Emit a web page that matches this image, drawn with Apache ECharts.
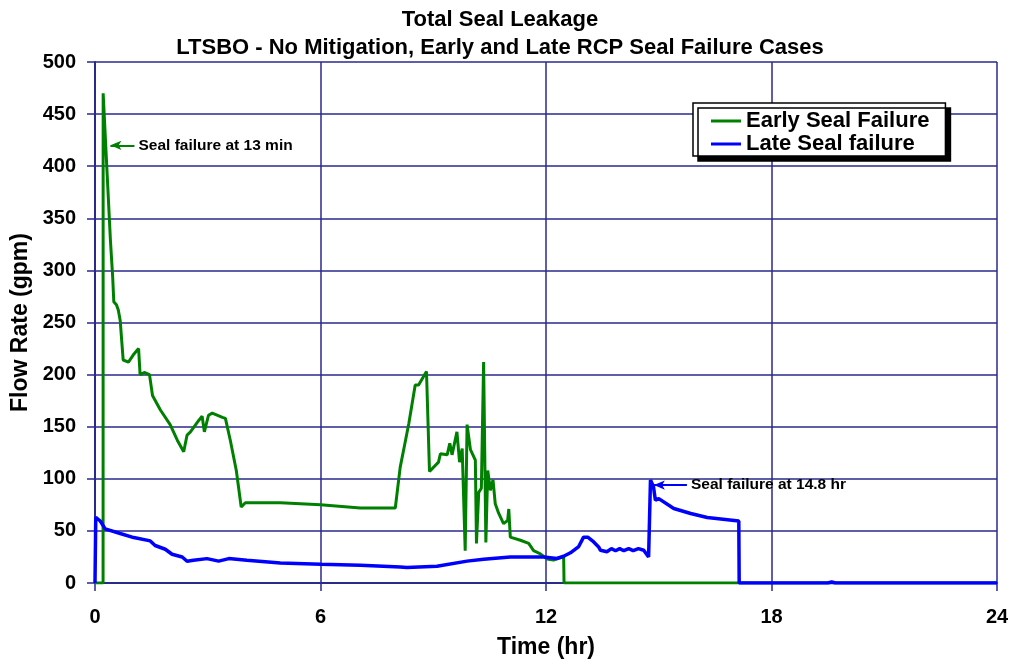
<!DOCTYPE html>
<html>
<head>
<meta charset="utf-8">
<script src="https://cdn.jsdelivr.net/npm/echarts@6/dist/echarts.min.js"></script>
<style>
  html, body { margin: 0; padding: 0; background: #ffffff; }
  #chart { width: 1013px; height: 666px; }
</style>
</head>
<body>
<div id="chart"></div>
<script>
// Time (hr) and total seal leakage (gpm), early RCP seal failure case
const earlyTime = [0, 0.215, 0.217, 0.41, 0.47, 0.5, 0.57, 0.62, 0.67, 0.75, 0.89, 1.02, 1.16, 1.2, 1.31, 1.45, 1.53, 1.74, 2.0, 2.19, 2.36, 2.45, 2.54, 2.76, 2.85, 2.91, 3.02, 3.12, 3.39, 3.47, 3.6, 3.76, 3.89, 4.0, 4.93, 6.0, 7.06, 7.99, 8.12, 8.23, 8.35, 8.52, 8.61, 8.82, 8.9, 9.14, 9.19, 9.37, 9.44, 9.5, 9.63, 9.7, 9.77, 9.85, 9.9, 9.99, 10.12, 10.15, 10.21, 10.28, 10.34, 10.4, 10.45, 10.52, 10.59, 10.65, 10.74, 10.87, 10.98, 11.01, 11.05, 11.32, 11.54, 11.67, 11.85, 12.03, 12.2, 12.34, 12.47, 12.48, 24];
const earlyFlow = [0, 0, 470, 329, 294, 270, 267, 262, 252, 214, 212, 219, 225, 200, 202, 200, 180, 166, 152, 137, 126, 142, 145, 156, 160, 145, 161, 163, 159, 158, 137, 108, 73, 77, 77, 75, 72, 72, 111, 131, 153, 190, 190, 203, 107, 116, 124, 123, 134, 123, 145, 116, 129, 31, 152, 128, 118, 38, 87, 91, 212, 39, 108, 89, 99, 76, 67, 57, 60, 71, 44, 41, 38, 31, 28, 23, 22, 24, 25, 0, 0];

// Time (hr) and total seal leakage (gpm), late RCP seal failure case
const lateTime = [0, 0.02, 0.06, 0.14, 0.27, 0.67, 1.03, 1.47, 1.6, 1.87, 2.05, 2.32, 2.45, 2.62, 2.98, 3.29, 3.56, 4.04, 4.93, 6.01, 7.06, 8.12, 8.3, 9.1, 9.9, 10.34, 11.05, 11.94, 12.29, 12.47, 12.65, 12.87, 13.0, 13.11, 13.27, 13.4, 13.45, 13.62, 13.74, 13.85, 13.96, 14.07, 14.2, 14.32, 14.46, 14.6, 14.73, 14.78, 14.86, 14.91, 15.0, 15.4, 15.85, 16.29, 17.13, 17.14, 18.1, 18.15, 18.2, 19.5, 19.6, 19.7, 24];
const lateFlow = [0, 63, 63, 59.5, 52, 47.5, 43.6, 40.4, 36, 32.4, 27.6, 25, 20.9, 21.8, 23.4, 21, 23.4, 21.8, 19.2, 18, 17, 15.4, 14.8, 16, 21, 22.8, 25, 25, 23.5, 25.7, 29, 35, 44, 44, 39.4, 34.6, 31.4, 30, 33, 31, 33, 31, 33, 31, 33, 31.4, 25, 98.8, 92.3, 79.5, 81, 71.5, 66.7, 62.9, 59.6, 0, 0, 1, 0, 0, 1, 0, 0];

const seriesNames = ['Early Seal Failure', 'Late Seal failure'];
const seriesColors = ['#008000', '#0000ff'];

// Annotation arrows: [tail time, head time, flow level, text]
const earlyNote = { from: 1.05, to: 0.41, flow: 420, text: 'Seal failure at 13 min' };
const lateNote = { from: 15.75, to: 14.87, flow: 94, text: 'Seal failure at 14.8 hr' };

const FONT = '"Liberation Sans", Arial, Helvetica, sans-serif';
const NAVY = '#2a2a8c';

function pairs(xs, ys) {
  return xs.map((x, i) => [x, ys[i]]);
}

function noteLine(note, color) {
  return {
    silent: true,
    animation: false,
    symbol: ['arrow', 'none'],
    symbolSize: [7, 11],
    lineStyle: { color: color, width: 2, type: 'solid' },
    label: {
      show: true,
      position: 'end',
      distance: 4,
      formatter: note.text,
      color: '#000',
      fontFamily: FONT,
      fontWeight: 'bold',
      fontSize: 15.5
    },
    data: [[
      { coord: [note.to, note.flow] },
      { coord: [note.from, note.flow] }
    ]]
  };
}

const chart = echarts.init(document.getElementById('chart'), null, { renderer: 'canvas' });

chart.setOption({
  backgroundColor: '#ffffff',
  animation: false,
  title: {
    text: 'Total Seal Leakage\nLTSBO - No Mitigation, Early and Late RCP Seal Failure Cases',
    left: 500,
    top: 6,
    padding: 0,
    textAlign: 'center',
    textStyle: {
      fontFamily: FONT,
      fontWeight: 'bold',
      fontSize: 22,
      lineHeight: 28,
      color: '#000'
    }
  },
  legend: {
    orient: 'vertical',
    left: 693,
    top: 103,
    padding: [7, 16, 1, 18],
    itemGap: 1,
    icon: 'rect',
    itemWidth: 30,
    itemHeight: 3,
    backgroundColor: '#ffffff',
    borderColor: '#000',
    borderWidth: 1.5,
    borderRadius: 0,
    shadowColor: '#000',
    shadowBlur: 0.01,
    shadowOffsetX: 5,
    shadowOffsetY: 5,
    textStyle: {
      fontFamily: FONT,
      fontWeight: 'bold',
      fontSize: 22,
      color: '#000'
    },
    data: seriesNames
  },
  grid: {
    left: 95,
    right: 16,
    top: 62,
    bottom: 83,
    containLabel: false,
    outerBoundsMode: 'none'
  },
  xAxis: {
    type: 'value',
    min: 0,
    max: 24,
    interval: 6,
    name: 'Time (hr)',
    nameLocation: 'middle',
    nameGap: 53,
    nameTextStyle: { fontFamily: FONT, fontWeight: 'bold', fontSize: 23, color: '#000' },
    axisLine: { show: true, onZero: false, lineStyle: { color: NAVY, width: 2 } },
    axisTick: { show: true, inside: false, length: 8, lineStyle: { color: NAVY, width: 1.5 } },
    axisLabel: { margin: 24, fontFamily: FONT, fontWeight: 'bold', fontSize: 20, color: '#000' },
    splitLine: { show: true, lineStyle: { color: NAVY, width: 1.5 } }
  },
  yAxis: {
    type: 'value',
    min: 0,
    max: 500,
    interval: 50,
    name: 'Flow Rate (gpm)',
    nameLocation: 'middle',
    nameGap: 63,
    nameTextStyle: { fontFamily: FONT, fontWeight: 'bold', fontSize: 23, color: '#000' },
    axisLine: { show: true, lineStyle: { color: NAVY, width: 2 } },
    axisTick: { show: true, inside: false, length: 8, lineStyle: { color: NAVY, width: 1.5 } },
    axisLabel: { margin: 19, fontFamily: FONT, fontWeight: 'bold', fontSize: 20, color: '#000' },
    splitLine: { show: true, lineStyle: { color: NAVY, width: 1.5 } }
  },
  series: [
    {
      name: seriesNames[0],
      type: 'line',
      data: pairs(earlyTime, earlyFlow),
      symbol: 'none',
      color: seriesColors[0],
      lineStyle: { color: seriesColors[0], width: 3 },
      z: 3,
      markLine: noteLine(earlyNote, seriesColors[0])
    },
    {
      name: seriesNames[1],
      type: 'line',
      data: pairs(lateTime, lateFlow),
      symbol: 'none',
      color: seriesColors[1],
      lineStyle: { color: seriesColors[1], width: 3.5 },
      z: 4,
      markLine: noteLine(lateNote, seriesColors[1])
    }
  ]
});
</script>
</body>
</html>
